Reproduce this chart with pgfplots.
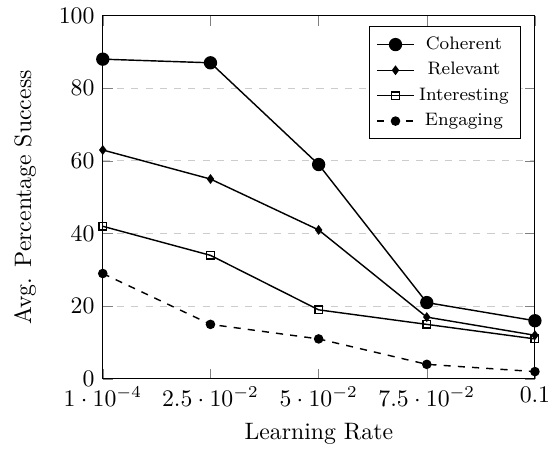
\documentclass[border=0pt]{standalone}
\usepackage{pgfplots}
\pgfplotsset{compat=1.18}
\begin{document}
\begin{tikzpicture}
\begin{axis}[
  scale only axis,
  width=182pt, height=153pt,
  xmin=0.0001, xmax=0.1,
  ymin=0, ymax=100,
  xtick={0.0001,0.025,0.05,0.075,0.1},
  ytick={0,20,40,60,80,100},
  ymajorgrids,
  major grid style={dashed, gray!40},
  xlabel={Learning Rate},
  ylabel={Avg. Percentage Success},
  ylabel style={inner ysep=6pt},
  legend style={at={(0.968,0.97)}, anchor=north east, font=\fontsize{7.6}{10}\selectfont},
  legend image code/.code={\draw[mark repeat=2,mark phase=2,#1] plot coordinates {(0cm,0cm) (0.27cm,0cm) (0.54cm,0cm)};},
  every axis plot/.append style={semithick},
]
\addplot[black, mark=*, mark size=2.5pt] coordinates {(0.0001,88) (0.025,87) (0.05,59) (0.075,21) (0.1,16)};
\addlegendentry{Coherent}
\addplot[black, mark=diamond*, mark size=1.6pt] coordinates {(0.0001,63) (0.025,55) (0.05,41) (0.075,17) (0.1,12)};
\addlegendentry{Relevant}
\addplot[black, mark=square, mark size=1.6pt] coordinates {(0.0001,42) (0.025,34) (0.05,19) (0.075,15) (0.1,11)};
\addlegendentry{Interesting}
\addplot[black, dashed, mark=*, mark size=1.7pt, mark options={solid}] coordinates {(0.0001,29) (0.025,15) (0.05,11) (0.075,4) (0.1,2)};
\addlegendentry{Engaging}
\end{axis}
\end{tikzpicture}
\end{document}
